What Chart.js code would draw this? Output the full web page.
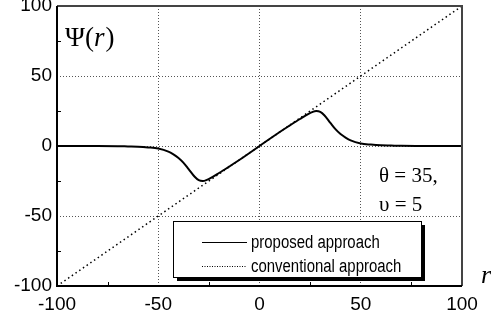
<!DOCTYPE html>
<html>
<head>
<meta charset="utf-8">
<script src="https://cdn.jsdelivr.net/npm/chart.js@4/dist/chart.umd.min.js"></script>
<style>
  html,body{margin:0;padding:0;background:#fff;}
  #wrap{width:491px;height:322px;position:relative;}
</style>
</head>
<body>
<div id="wrap"><canvas id="c"></canvas></div>
<script>
// r values and Psi(r)
const rVals   = [-100,-80,-70,-65,-60,-55,-50,-45,-42.5,-40,-37.5,-35,-32,-30,-28,-26,-24,-20,-15,-10,0,10,15,20,24,26,28,30,32,35,37.5,40,42.5,45,50,55,60,65,70,80,100];
const psiVals = [0,0,-0.1,-0.3,-0.5,-1,-1.8,-4,-6,-8.5,-12,-16.5,-22,-24.4,-25,-24.2,-22.8,-19.3,-14.7,-10,0,10,14.7,19.3,22.8,24.2,25,24.4,22,16.5,12,8.5,6,4,1.8,1,0.5,0.3,0.1,0,0];
const convR   = [-100,100];
const convPsi = [-100,100];
const axisTicks = [-100,-50,0,50,100];
const seriesNames = ["proposed approach","conventional approach"];

function pts(xs, ys){ return xs.map((x,i)=>({x:x, y:ys[i]})); }

const SANS = "'Liberation Sans', Arial, sans-serif";
const SERIF = "'Liberation Serif', 'Times New Roman', serif";

const decor = {
  id: "decor",
  afterDraw(chart){
    const ctx = chart.ctx, a = chart.chartArea;
    const xs = chart.scales.x, ys = chart.scales.y;
    ctx.save();
    // minor ticks inward
    ctx.strokeStyle = "#000"; ctx.lineWidth = 1;
    xs.ticks.forEach(t=>{
      if (t.value % 50 === 0) return;
      const p = Math.round(xs.getPixelForValue(t.value))+0.5;
      ctx.beginPath(); ctx.moveTo(p, a.bottom); ctx.lineTo(p, a.bottom-4); ctx.stroke();
    });
    ys.ticks.forEach(t=>{
      if (t.value % 50 === 0) return;
      const p = Math.round(ys.getPixelForValue(t.value))+0.5;
      ctx.beginPath(); ctx.moveTo(a.left, p); ctx.lineTo(a.left+4, p); ctx.stroke();
    });
    // frame
    ctx.lineWidth = 2;
    ctx.strokeStyle = "#444";
    ctx.beginPath(); ctx.moveTo(a.left, a.top); ctx.lineTo(a.right, a.top); ctx.lineTo(a.right, a.bottom); ctx.stroke();
    ctx.strokeStyle = "#000";
    ctx.beginPath(); ctx.moveTo(a.left, a.top); ctx.lineTo(a.left, a.bottom); ctx.lineTo(a.right, a.bottom); ctx.stroke();

    // texts
    ctx.fillStyle = "#000";
    ctx.textBaseline = "alphabetic";
    ctx.font = "27px " + SERIF;
    ctx.fillText("\u03A8(", 65, 46);
    let w = ctx.measureText("\u03A8(").width;
    ctx.font = "italic 27px " + SERIF;
    ctx.fillText("r", 65+w, 46);
    let w2 = ctx.measureText("r").width;
    ctx.font = "27px " + SERIF;
    ctx.fillText(")", 65+w+w2+1, 46);

    ctx.font = "21px " + SERIF;
    ctx.fillText("\u03B8 = 35,", 379, 182);
    ctx.fillText("\u03C5 = 5", 379, 211);

    ctx.font = "italic 26px " + SERIF;
    ctx.fillText("r", 481, 283);

    // legend box with shadow
    const L = 173, T = 221, R = 421, B = 277;
    ctx.fillStyle = "#000";
    ctx.fillRect(L+4, T+4, R-L, B-T);
    ctx.fillStyle = "#fff";
    ctx.fillRect(L, T, R-L, B-T);
    ctx.lineWidth = 1; ctx.strokeStyle = "#000";
    ctx.strokeRect(L+0.5, T+0.5, R-L, B-T);
    const rows = [242, 266];
    chart.data.datasets.forEach((ds,i)=>{
      const y = rows[i] + 0.5;
      ctx.save();
      ctx.strokeStyle = "#000";
      ctx.lineWidth = 1;
      ctx.setLineDash(i===0 ? [] : [1,1.5]);
      ctx.beginPath(); ctx.moveTo(202, y); ctx.lineTo(247, y); ctx.stroke();
      ctx.restore();
      ctx.save();
      ctx.fillStyle = "#000";
      ctx.font = "18px " + SANS;
      ctx.textBaseline = "middle";
      ctx.translate(251, rows[i]+1);
      ctx.scale(0.83, 1);
      ctx.fillText(ds.label, 0, 0);
      ctx.restore();
    });
    ctx.restore();
  }
};

function gridColor(c){
  const v = c.tick ? c.tick.value : 0;
  return (v % 50 === 0 && Math.abs(v) < 100) ? "#555" : "rgba(0,0,0,0)";
}

new Chart(document.getElementById("c").getContext("2d"), {
  type: "scatter",
  data: {
    datasets: [
      { label: seriesNames[0], data: pts(rVals, psiVals), showLine: true, borderColor: "#000",
        borderWidth: 2, pointRadius: 0, cubicInterpolationMode: "monotone", order: 0 },
      { label: seriesNames[1], data: pts(convR, convPsi), showLine: true, borderColor: "#000",
        borderWidth: 1.5, borderDash: [1.5, 3], pointRadius: 0, order: 1 }
    ]
  },
  options: {
    responsive: true, maintainAspectRatio: false, animation: false,
    layout: { padding: { top: 6, right: 29, left: 0, bottom: 0 } },
    plugins: { legend: { display: false }, tooltip: { enabled: false } },
    scales: {
      x: {
        type: "linear", min: -100, max: 100,
        afterFit(s){ s.height = 36; s.paddingLeft = 0; s.paddingRight = 0; },
        ticks: { stepSize: 25, padding: 7, maxRotation: 0, color: "#000",
          font: { family: SANS, size: 19 },
          callback: v => axisTicks.includes(v) ? String(v) : "" },
        grid: { drawTicks: false, color: gridColor, lineWidth: 1 },
        border: { display: false, dash: [1, 2] }
      },
      y: {
        type: "linear", min: -100, max: 100,
        afterFit(s){ s.width = 57; s.paddingTop = 0; s.paddingBottom = 0; },
        ticks: { stepSize: 25, padding: 5, color: "#000",
          font: { family: SANS, size: 19 },
          callback: v => axisTicks.includes(v) ? String(v) : "" },
        grid: { drawTicks: false, color: gridColor, lineWidth: 1 },
        border: { display: false, dash: [1, 2] }
      }
    }
  },
  plugins: [decor]
});
</script>
</body>
</html>
